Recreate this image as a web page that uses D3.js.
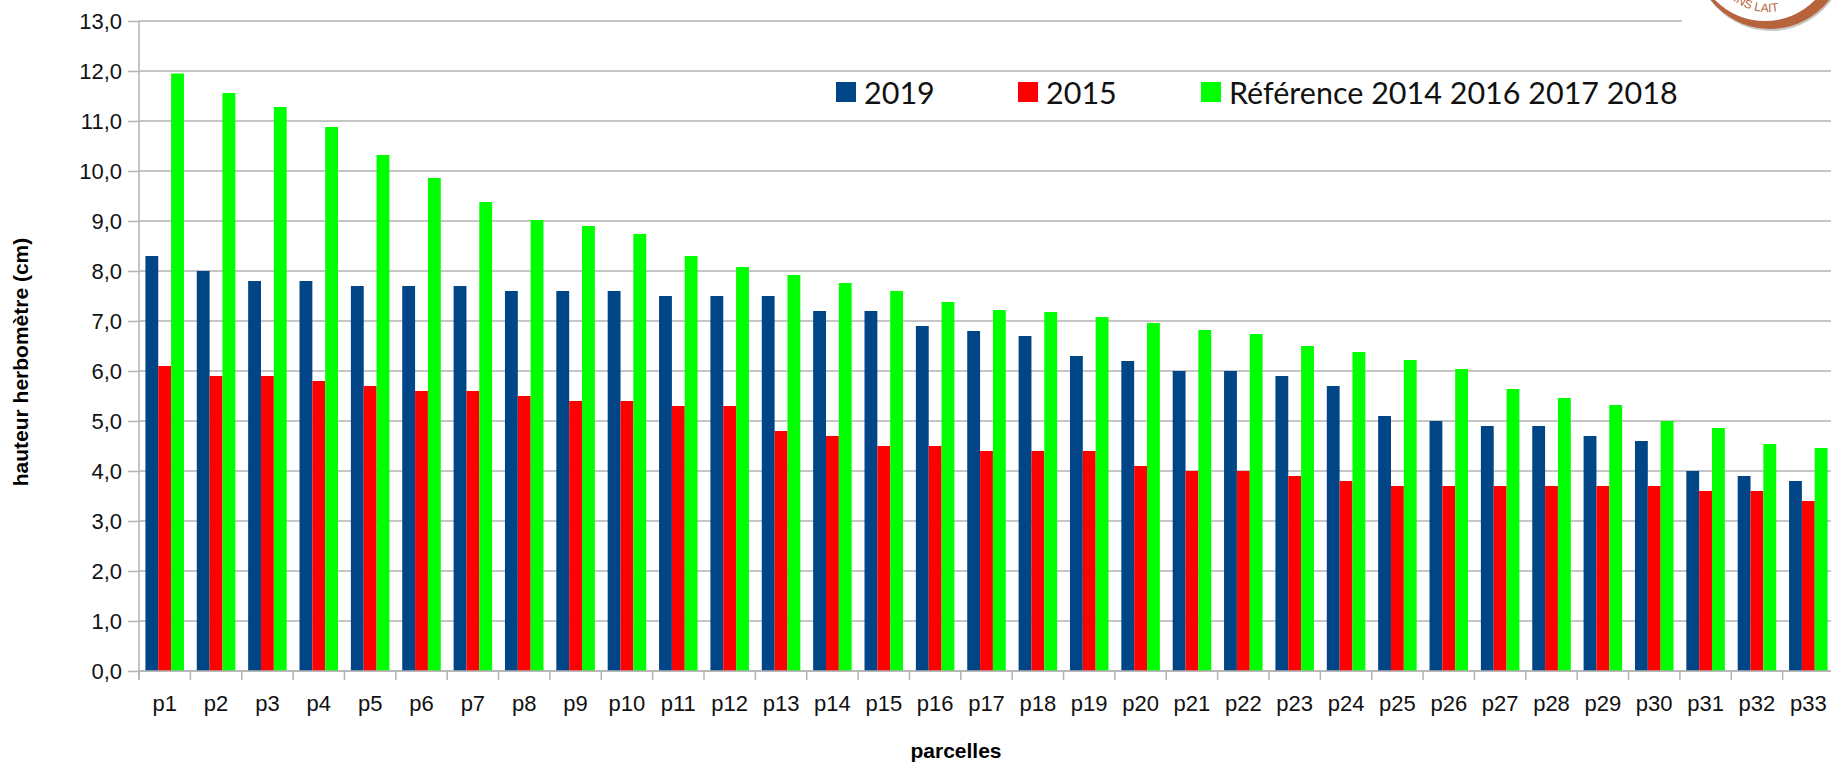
<!DOCTYPE html>
<html>
    <script src="https://d3js.org/d3.v7.min.js"></script>
    <style>
        body {margin: 0; background: #fff;}
        svg {display: block;}
    </style>
    <body onload="init()">
        <div id="chart_div"></div>

        <script>
            // parcel names
            var parcelles = ["p1","p2","p3","p4","p5","p6","p7","p8","p9","p10","p11",
                "p12","p13","p14","p15","p16","p17","p18","p19","p20","p21","p22",
                "p23","p24","p25","p26","p27","p28","p29","p30","p31","p32","p33"];

            // hauteur herbomètre (cm)
            var h2019 = [8.3,8.0,7.8,7.8,7.7,7.7,7.7,7.6,7.6,7.6,7.5,
                7.5,7.5,7.2,7.2,6.9,6.8,6.7,6.3,6.2,6.0,6.0,
                5.9,5.7,5.1,5.0,4.9,4.9,4.7,4.6,4.0,3.9,3.8];
            var h2015 = [6.1,5.9,5.9,5.8,5.7,5.6,5.6,5.5,5.4,5.4,5.3,
                5.3,4.8,4.7,4.5,4.5,4.4,4.4,4.4,4.1,4.0,4.0,
                3.9,3.8,3.7,3.7,3.7,3.7,3.7,3.7,3.6,3.6,3.4];
            var hReference = [11.95,11.56,11.28,10.88,10.32,9.86,9.38,9.02,8.9,8.74,8.3,
                8.08,7.92,7.76,7.6,7.38,7.22,7.18,7.08,6.96,6.82,6.74,
                6.5,6.38,6.22,6.04,5.64,5.46,5.32,5.0,4.86,4.54,4.46];

            var seriesNames = ["2019", "2015", "Référence 2014 2016 2017 2018"];
            var seriesColors = ["#004586", "#ff0000", "#00ff00"];
            var yTicks = [0,1,2,3,4,5,6,7,8,9,10,11,12,13];

            var W = 1831, H = 762;
            var plotLeft = 139, plotRight = 1834, plotTop = 21, plotBottom = 671;
            var gridColor = "#b3b3b3";

            function init()
            {
                let svg = d3.select("#chart_div").append("svg")
                    .attr("width", W)
                    .attr("height", H);

                let table = parcelles.map(function(p, i) {
                    return {name: p, values: [h2019[i], h2015[i], hReference[i]]};
                });

                let x = d3.scaleBand().domain(parcelles).range([plotLeft, plotRight]);
                let bw = x.bandwidth();
                let x1 = d3.scaleBand().domain([0,1,2]).range([bw * 0.125, bw * 0.875]);
                let y = d3.scaleLinear().domain([0, 13]).range([plotBottom, plotTop]);

                // gridlines
                svg.append("g").selectAll("line")
                    .data(yTicks)
                    .join("line")
                    .attr("x1", plotLeft).attr("x2", plotRight)
                    .attr("y1", d => y(d)).attr("y2", d => y(d))
                    .attr("stroke", gridColor)
                    .attr("stroke-width", 1.5);

                // y axis
                let yAxis = svg.append("g")
                    .attr("transform", "translate(" + plotLeft + ",0)")
                    .call(d3.axisLeft(y)
                        .tickValues(yTicks)
                        .tickSize(11)
                        .tickPadding(6)
                        .tickFormat(d => d3.format(".1f")(d).replace(".", ",")));
                yAxis.select(".domain").attr("stroke", gridColor).attr("stroke-width", 1.5)
                    .attr("d", "M0," + (plotBottom + 9) + "V" + plotTop);
                yAxis.selectAll(".tick line").attr("stroke", gridColor).attr("stroke-width", 1.5);
                yAxis.selectAll(".tick text")
                    .attr("font-family", "'Liberation Sans', Arial, sans-serif")
                    .attr("font-size", 22)
                    .attr("fill", "#111");

                // bars
                let groups = svg.append("g").selectAll("g")
                    .data(table)
                    .join("g")
                    .attr("transform", d => "translate(" + x(d.name) + ",0)");
                groups.selectAll("rect")
                    .data(d => d.values)
                    .join("rect")
                    .attr("x", (d, i) => x1(i))
                    .attr("width", x1.bandwidth())
                    .attr("y", d => y(d))
                    .attr("height", d => y(0) - y(d))
                    .attr("fill", (d, i) => seriesColors[i]);

                // x axis line and ticks between categories
                svg.append("line")
                    .attr("x1", plotLeft).attr("x2", plotRight)
                    .attr("y1", y(0)).attr("y2", y(0))
                    .attr("stroke", gridColor).attr("stroke-width", 1.5);
                svg.append("g").selectAll("line")
                    .data(parcelles.concat(["end"]))
                    .join("line")
                    .attr("x1", (d, i) => plotLeft + i * bw)
                    .attr("x2", (d, i) => plotLeft + i * bw)
                    .attr("y1", y(0)).attr("y2", y(0) + 9)
                    .attr("stroke", gridColor).attr("stroke-width", 1.5);

                let xAxis = svg.append("g")
                    .attr("transform", "translate(0," + y(0) + ")")
                    .call(d3.axisBottom(x).tickSize(0));
                xAxis.select(".domain").remove();
                xAxis.selectAll(".tick text")
                    .attr("y", 40).attr("dy", 0)
                    .attr("font-family", "'Liberation Sans', Arial, sans-serif")
                    .attr("font-size", 22)
                    .attr("fill", "#111");

                // axis titles
                svg.append("text")
                    .attr("transform", "translate(28,362) rotate(-90)")
                    .attr("text-anchor", "middle")
                    .attr("font-family", "'Liberation Sans', Arial, sans-serif")
                    .attr("font-weight", "bold")
                    .attr("font-size", 21)
                    .text("hauteur herbomètre (cm)");
                svg.append("text")
                    .attr("x", 956).attr("y", 758)
                    .attr("text-anchor", "middle")
                    .attr("font-family", "'Liberation Sans', Arial, sans-serif")
                    .attr("font-weight", "bold")
                    .attr("font-size", 21)
                    .text("parcelles");

                // legend
                let legendX = [836, 1018, 1201];
                let legend = svg.append("g").selectAll("g")
                    .data(seriesNames)
                    .join("g")
                    .attr("transform", (d, i) => "translate(" + legendX[i] + ",82)");
                legend.append("rect")
                    .attr("width", 20).attr("height", 20)
                    .attr("fill", (d, i) => seriesColors[i]);
                legend.append("text")
                    .attr("x", 28).attr("y", 22)
                    .attr("font-family", "Lato, 'Open Sans', sans-serif")
                    .attr("font-size", 30.5)
                    .attr("fill", "#111")
                    .text(d => d);

                drawLogo(svg);
            }

            // partial logo in the top-right corner
            function drawLogo(svg)
            {
                let cx = 1768, cy = -46;
                let g = svg.append("g");
                g.append("rect").attr("x", 1682).attr("y", 0).attr("width", 149).attr("height", 28).attr("fill", "#fff");
                g.append("circle").attr("cx", cx + 3).attr("cy", cy + 2).attr("r", 75).attr("fill", "#c8c8c8");
                g.append("circle").attr("cx", cx + 2).attr("cy", cy).attr("r", 75).attr("fill", "#b7643c");
                g.append("circle").attr("cx", cx - 3).attr("cy", cy - 3).attr("r", 70).attr("fill", "#fff");
                g.append("circle").attr("cx", cx - 3).attr("cy", cy - 3).attr("r", 66)
                    .attr("fill", "none").attr("stroke", "#b7643c").attr("stroke-width", 1.5)
                    .attr("stroke-dasharray", "0 320 40 200");
                let r = 58;
                g.append("path")
                    .attr("id", "logoArc")
                    .attr("fill", "none")
                    .attr("d", "M" + (cx - r) + "," + cy + " A" + r + "," + r + " 0 0 0 " + (cx + r) + "," + cy);
                g.append("text")
                    .attr("font-family", "'Liberation Sans', Arial, sans-serif")
                    .attr("font-size", 12)
                    .attr("fill", "#b7643c")
                    .append("textPath")
                    .attr("href", "#logoArc")
                    .attr("startOffset", 102)
                    .attr("text-anchor", "end")
                    .text("INS LAIT");
            }
        </script>
    </body>
</html>
